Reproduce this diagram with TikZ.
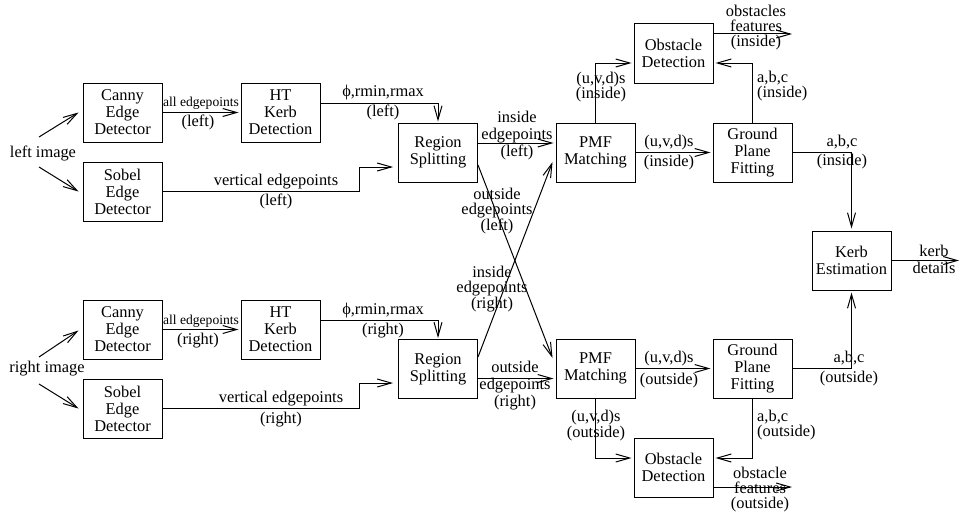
\documentclass[tikz,border=0pt]{standalone}
\usepackage{fontspec}
\setmainfont{Liberation Serif}
\usetikzlibrary{calc, arrows.meta}

\tikzset{
  block/.style={draw, line width=1pt, minimum width=79pt, minimum height=59pt,
    inner sep=0pt, align=center, font=\fontsize{16.4}{17}\selectfont},
  lbl/.style={inner sep=0pt, align=center, font=\fontsize{16.4}{17}\selectfont},
  smalllbl/.style={inner sep=0pt, font=\fontsize{13.6}{14}\selectfont},
  flow/.style={line width=1pt, -{Straight Barb[length=14pt, width=8pt]}},
}

\begin{document}
\begin{tikzpicture}[x=1pt, y=-1pt]
  \useasboundingbox (0,0) rectangle (960,511);
  % Left camera
  \node[lbl] (limg) at (43,153) {left image};
  \node[block] (cannyL) at (122.5,112.5) {Canny\\Edge\\Detector};
  \node[block] (sobelL) at (122.5,191.5) {Sobel\\Edge\\Detector};
  \node[block] (htL) at (280.5,112.5) {HT\\Kerb\\Detection};
  \node[block] (regionL) at (438,152.5) {Region\\Splitting};
  % Right camera
  \node[lbl] (rimg) at (47,369) {right image};
  \node[block] (cannyR) at (122.5,329.5) {Canny\\Edge\\Detector};
  \node[block] (sobelR) at (122.5,408.5) {Sobel\\Edge\\Detector};
  \node[block] (htR) at (280.5,329.5) {HT\\Kerb\\Detection};
  \node[block] (regionR) at (438,369) {Region\\Splitting};
  % Matching and fitting
  \node[block] (pmfT) at (595.5,152.5) {PMF\\Matching};
  \node[block] (gpfT) at (752.5,152.5) {Ground\\Plane\\Fitting};
  \node[block] (obsT) at (673.5,53.5) {Obstacle\\Detection};
  \node[block] (pmfB) at (595.5,368.5) {PMF\\Matching};
  \node[block] (gpfB) at (752.5,368.5) {Ground\\Plane\\Fitting};
  \node[block] (obsB) at (673.5,467.5) {Obstacle\\Detection};
  \node[block] (kerb) at (851.5,260.5) {Kerb\\Estimation};
  \coordinate (featT) at (792,34);
  \coordinate (featB) at (792,487);
  \coordinate (kerbOut) at (959,260.5);

  % Left camera flow
  \draw[flow] ($(limg)+(-4,-16)$) -- ($(cannyL.west)+(-4,0)$);
  \draw[flow] ($(limg)+(-4,14)$) -- ($(sobelL.west)+(-4,0)$);
  \draw[flow] (cannyL.east) -- ($(htL.west)+(-2,0)$);
  \draw[flow] ($(htL.east)+(0,-9.5)$) -| ($(regionL.north)+(0,-1)$);
  \draw[flow] (sobelL.east) -- ++(197,0) |- ($(regionL.west)+(-5,14.5)$);
  \node[smalllbl] (allL) at (201,103) {all edgepoints};
  \node[lbl] (allLs) at (198,122) {(left)};
  \node[lbl] (phiL) at (383,103) {ϕ,rmin,rmax\\[3pt](left)};
  \node[lbl] (vertL) at (276,192) {vertical edgepoints\\[3pt](left)};

  % Right camera flow
  \draw[flow] ($(rimg)+(-8,-12)$) -- ($(cannyR.west)+(-4,1)$);
  \draw[flow] ($(rimg)+(-8,15)$) -- ($(sobelR.west)+(-4,0)$);
  \draw[flow] (cannyR.east) -- ($(htR.west)+(-2,0)$);
  \draw[flow] ($(htR.east)+(0,-9.5)$) -| ($(regionR.north)+(0,-1)$);
  \draw[flow] (sobelR.east) -- ++(197,0) |- ($(regionR.west)+(-5,14)$);
  \node[smalllbl] (allR) at (201,321) {all edgepoints};
  \node[lbl] (allRs) at (198,341) {(right)};
  \node[lbl] (phiR) at (383,321) {ϕ,rmin,rmax\\[3pt](right)};
  \node[lbl] (vertR) at (281,409.5) {vertical edgepoints\\[4pt](right)};

  % Region splitting to matching
  \draw[flow] ($(regionL.east)+(0,-9.5)$) -- ($(pmfT.west)+(-2,-9.5)$);
  \draw[flow] ($(regionL.east)+(0,12.5)$) -- ($(pmfB.west)+(-3,-10.5)$);
  \draw[flow] ($(regionR.east)+(0,-12)$) -- ($(pmfT.west)+(-3,9.5)$);
  \draw[flow] ($(regionR.east)+(0,9.5)$) -- ($(pmfB.west)+(-2,10)$);
  \node[lbl] (inL) at (517,135.5) {inside\\edgepoints\\(left)};
  \node[lbl, font=\fontsize{16.4}{15}\selectfont] (outL) at (497,211) {outside\\edgepoints\\(left)};
  \node[lbl, font=\fontsize{16.4}{14.5}\selectfont] (inR) at (492,289) {inside\\edgepoints\\(right)};
  \node[lbl] (outR) at (515,386) {outside\\edgepoints\\(right)};

  % Inside branch
  \draw[flow] (pmfT.east) -- ($(gpfT.west)+(-2,0)$);
  \draw[flow] (pmfT.north) |- ($(obsT.west)+(-2,9.5)$);
  \draw[flow] (gpfT.north) |- ($(obsT.east)+(2,9.5)$);
  \draw[flow] ($(obsT.east)+(0,-19.5)$) -- (featT);
  \draw[flow] (gpfT.east) -| ($(kerb.north)+(0,-2)$);
  \node[lbl, font=\fontsize{16.4}{15}\selectfont] (uvdTop) at (601,87.5) {(u,v,d)s\\(inside)};
  \node[lbl, font=\fontsize{16.4}{15}\selectfont] (featTl) at (756,28) {obstacles\\features\\(inside)};
  \node[lbl, align=left, anchor=west, font=\fontsize{16.4}{15}\selectfont] (abcTop) at (757,86.5) {a,b,c\\(inside)};
  \node[lbl] (uvdT) at (669,153) {(u,v,d)s\\[3pt](inside)};
  \node[lbl] (abcT) at (842,152.5) {a,b,c\\[2pt](inside)};

  % Outside branch
  \draw[flow] (pmfB.east) -- ($(gpfB.west)+(-2,0)$);
  \draw[flow] (pmfB.south) |- ($(obsB.west)+(-2,-9.5)$);
  \draw[flow] (gpfB.south) |- ($(obsB.east)+(2,-9.5)$);
  \draw[flow] ($(obsB.east)+(0,19.5)$) -- (featB);
  \draw[flow] (gpfB.east) -| ($(kerb.south)+(0,2)$);
  \draw[flow] (kerb.east) -- (kerbOut);
  \node[lbl] (uvdB) at (669,370) {(u,v,d)s\\[5pt](outside)};
  \node[lbl] (abcB) at (849,369) {a,b,c\\[3pt](outside)};
  \node[lbl] (kerbTxt) at (934,259.5) {kerb\\details};
  \node[lbl, font=\fontsize{16.4}{16}\selectfont] (uvdBot) at (596,426) {(u,v,d)s\\(outside)};
  \node[lbl, align=left, anchor=west, font=\fontsize{16.4}{15}\selectfont] (abcBot) at (757,425.5) {a,b,c\\(outside)};
  \node[lbl, font=\fontsize{16.4}{15}\selectfont] (featBl) at (760,490) {obstacle\\features\\(outside)};
\end{tikzpicture}
\end{document}
